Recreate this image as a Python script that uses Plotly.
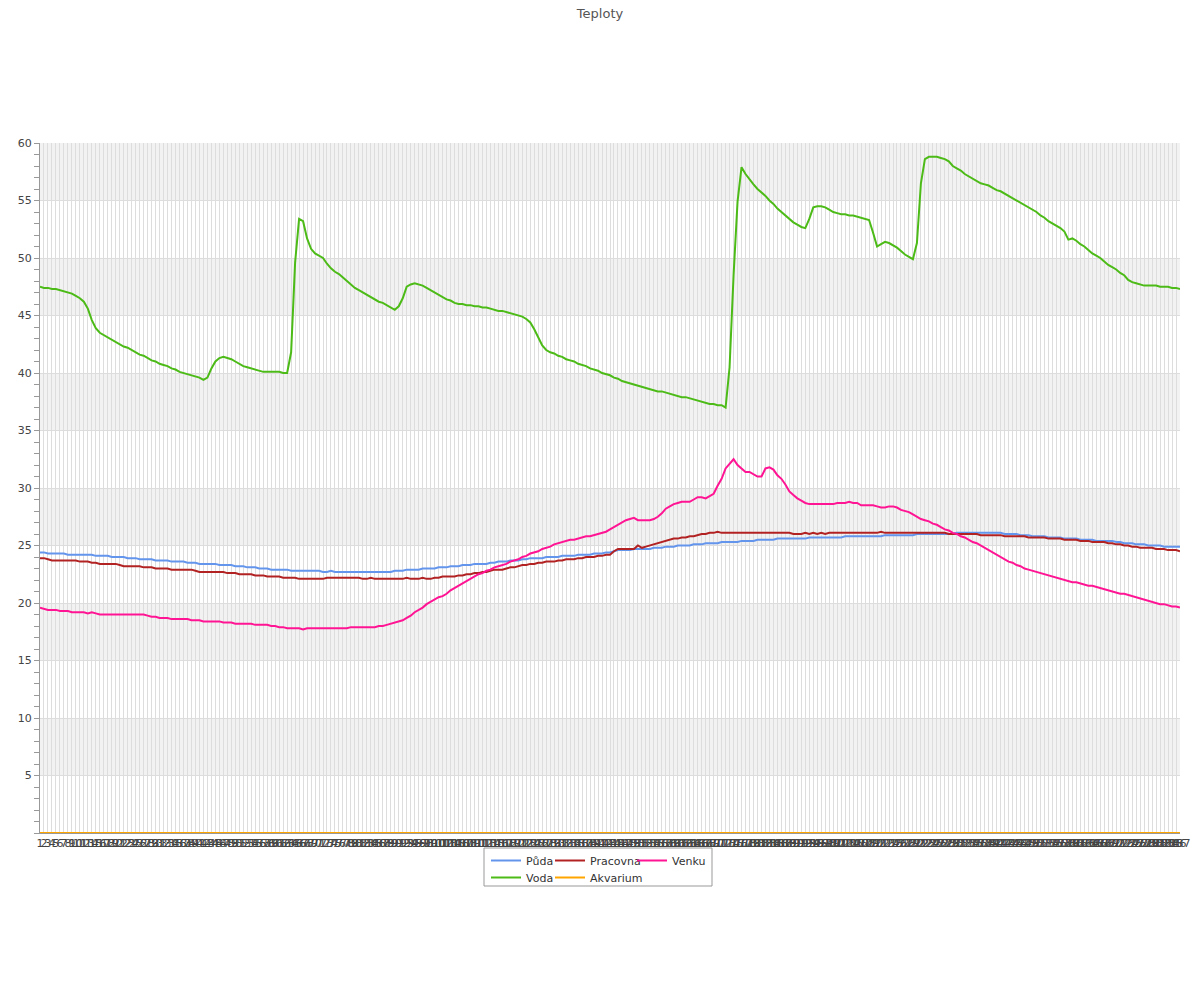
import plotly.graph_objects as go

categories = [str(i) for i in range(1, 288)]

puda = [
    24.4, 24.4, 24.3, 24.3, 24.3, 24.3, 24.3, 24.2, 24.2, 24.2,
    24.2, 24.2, 24.2, 24.2, 24.1, 24.1, 24.1, 24.1, 24.0, 24.0,
    24.0, 24.0, 23.9, 23.9, 23.9, 23.8, 23.8, 23.8, 23.8, 23.7,
    23.7, 23.7, 23.7, 23.6, 23.6, 23.6, 23.6, 23.5, 23.5, 23.5,
    23.4, 23.4, 23.4, 23.4, 23.4, 23.3, 23.3, 23.3, 23.3, 23.2,
    23.2, 23.2, 23.1, 23.1, 23.1, 23.0, 23.0, 23.0, 22.9, 22.9,
    22.9, 22.9, 22.9, 22.8, 22.8, 22.8, 22.8, 22.8, 22.8, 22.8,
    22.8, 22.7, 22.7, 22.8, 22.7, 22.7, 22.7, 22.7, 22.7, 22.7,
    22.7, 22.7, 22.7, 22.7, 22.7, 22.7, 22.7, 22.7, 22.7, 22.8,
    22.8, 22.8, 22.9, 22.9, 22.9, 22.9, 23.0, 23.0, 23.0, 23.0,
    23.1, 23.1, 23.1, 23.2, 23.2, 23.2, 23.3, 23.3, 23.3, 23.4,
    23.4, 23.4, 23.4, 23.5, 23.5, 23.6, 23.6, 23.6, 23.7, 23.7,
    23.7, 23.8, 23.8, 23.9, 23.9, 23.9, 23.9, 24.0, 24.0, 24.0,
    24.0, 24.1, 24.1, 24.1, 24.1, 24.2, 24.2, 24.2, 24.2, 24.3,
    24.3, 24.3, 24.4, 24.4, 24.5, 24.6, 24.6, 24.6, 24.6, 24.7,
    24.7, 24.7, 24.7, 24.7, 24.8, 24.8, 24.8, 24.9, 24.9, 24.9,
    25.0, 25.0, 25.0, 25.0, 25.1, 25.1, 25.1, 25.2, 25.2, 25.2,
    25.2, 25.3, 25.3, 25.3, 25.3, 25.3, 25.4, 25.4, 25.4, 25.4,
    25.5, 25.5, 25.5, 25.5, 25.5, 25.6, 25.6, 25.6, 25.6, 25.6,
    25.6, 25.6, 25.6, 25.7, 25.7, 25.7, 25.7, 25.7, 25.7, 25.7,
    25.7, 25.7, 25.8, 25.8, 25.8, 25.8, 25.8, 25.8, 25.8, 25.8,
    25.8, 25.8, 25.9, 25.9, 25.9, 25.9, 25.9, 25.9, 25.9, 25.9,
    26.0, 26.0, 26.0, 26.0, 26.0, 26.0, 26.0, 26.0, 26.0, 26.0,
    26.1, 26.1, 26.1, 26.1, 26.1, 26.1, 26.1, 26.1, 26.1, 26.1,
    26.1, 26.1, 26.0, 26.0, 26.0, 26.0, 25.9, 25.9, 25.9, 25.8,
    25.8, 25.8, 25.8, 25.7, 25.7, 25.7, 25.7, 25.6, 25.6, 25.6,
    25.6, 25.5, 25.5, 25.5, 25.5, 25.4, 25.4, 25.4, 25.4, 25.4,
    25.3, 25.3, 25.2, 25.2, 25.2, 25.1, 25.1, 25.1, 25.0, 25.0,
    25.0, 25.0, 24.9, 24.9, 24.9, 24.9, 24.9,
]

voda = [
    47.5, 47.4, 47.4, 47.3, 47.3, 47.2, 47.1, 47.0, 46.9, 46.7,
    46.5, 46.2, 45.6, 44.6, 43.9, 43.5, 43.3, 43.1, 42.9, 42.7,
    42.5, 42.3, 42.2, 42.0, 41.8, 41.6, 41.5, 41.3, 41.1, 41.0,
    40.8, 40.7, 40.6, 40.4, 40.3, 40.1, 40.0, 39.9, 39.8, 39.7,
    39.6, 39.4, 39.6, 40.4, 41.0, 41.3, 41.4, 41.3, 41.2, 41.0,
    40.8, 40.6, 40.5, 40.4, 40.3, 40.2, 40.1, 40.1, 40.1, 40.1,
    40.1, 40.0, 40.0, 41.8, 49.6, 53.4, 53.2, 51.7, 50.8, 50.4,
    50.2, 50.0, 49.5, 49.1, 48.8, 48.6, 48.3, 48.0, 47.7, 47.4,
    47.2, 47.0, 46.8, 46.6, 46.4, 46.2, 46.1, 45.9, 45.7, 45.5,
    45.8, 46.5, 47.5, 47.7, 47.8, 47.7, 47.6, 47.4, 47.2, 47.0,
    46.8, 46.6, 46.4, 46.3, 46.1, 46.0, 46.0, 45.9, 45.9, 45.8,
    45.8, 45.7, 45.7, 45.6, 45.5, 45.4, 45.4, 45.3, 45.2, 45.1,
    45.0, 44.9, 44.7, 44.4, 43.8, 43.1, 42.4, 42.0, 41.8, 41.7,
    41.5, 41.4, 41.2, 41.1, 41.0, 40.8, 40.7, 40.6, 40.4, 40.3,
    40.2, 40.0, 39.9, 39.8, 39.6, 39.5, 39.3, 39.2, 39.1, 39.0,
    38.9, 38.8, 38.7, 38.6, 38.5, 38.4, 38.4, 38.3, 38.2, 38.1,
    38.0, 37.9, 37.9, 37.8, 37.7, 37.6, 37.5, 37.4, 37.3, 37.3,
    37.2, 37.2, 37.0, 40.5, 48.5, 54.9, 57.9, 57.3, 56.8, 56.4,
    56.0, 55.7, 55.4, 55.0, 54.7, 54.3, 54.0, 53.7, 53.4, 53.1,
    52.9, 52.7, 52.6, 53.4, 54.4, 54.5, 54.5, 54.4, 54.2, 54.0,
    53.9, 53.8, 53.8, 53.7, 53.7, 53.6, 53.5, 53.4, 53.3, 52.2,
    51.0, 51.2, 51.4, 51.3, 51.1, 50.9, 50.6, 50.3, 50.1, 49.9,
    51.3, 56.5, 58.6, 58.8, 58.8, 58.8, 58.7, 58.6, 58.4, 58.0,
    57.8, 57.6, 57.3, 57.1, 56.9, 56.7, 56.5, 56.4, 56.3, 56.1,
    55.9, 55.8, 55.6, 55.4, 55.2, 55.0, 54.8, 54.6, 54.4, 54.2,
    54.0, 53.7, 53.5, 53.2, 53.0, 52.8, 52.6, 52.3, 51.6, 51.7,
    51.5, 51.2, 51.0, 50.7, 50.4, 50.2, 50.0, 49.7, 49.4, 49.2,
    49.0, 48.7, 48.5, 48.1, 47.9, 47.8, 47.7, 47.6, 47.6, 47.6,
    47.6, 47.5, 47.5, 47.5, 47.4, 47.4, 47.3,
]

pracovna = [
    23.9, 23.9, 23.8, 23.7, 23.7, 23.7, 23.7, 23.7, 23.7, 23.7,
    23.6, 23.6, 23.6, 23.5, 23.5, 23.4, 23.4, 23.4, 23.4, 23.4,
    23.3, 23.2, 23.2, 23.2, 23.2, 23.2, 23.1, 23.1, 23.1, 23.0,
    23.0, 23.0, 23.0, 22.9, 22.9, 22.9, 22.9, 22.9, 22.9, 22.8,
    22.7, 22.7, 22.7, 22.7, 22.7, 22.7, 22.7, 22.6, 22.6, 22.6,
    22.5, 22.5, 22.5, 22.5, 22.4, 22.4, 22.4, 22.3, 22.3, 22.3,
    22.3, 22.2, 22.2, 22.2, 22.2, 22.1, 22.1, 22.1, 22.1, 22.1,
    22.1, 22.1, 22.2, 22.2, 22.2, 22.2, 22.2, 22.2, 22.2, 22.2,
    22.2, 22.1, 22.1, 22.2, 22.1, 22.1, 22.1, 22.1, 22.1, 22.1,
    22.1, 22.1, 22.2, 22.1, 22.1, 22.1, 22.2, 22.1, 22.1, 22.2,
    22.2, 22.3, 22.3, 22.3, 22.3, 22.4, 22.4, 22.5, 22.5, 22.6,
    22.6, 22.7, 22.7, 22.8, 22.9, 22.9, 22.9, 23.0, 23.1, 23.1,
    23.2, 23.3, 23.3, 23.4, 23.4, 23.5, 23.5, 23.6, 23.6, 23.6,
    23.7, 23.7, 23.8, 23.8, 23.8, 23.9, 23.9, 24.0, 24.0, 24.0,
    24.1, 24.1, 24.2, 24.2, 24.5, 24.7, 24.7, 24.7, 24.7, 24.7,
    25.0, 24.8, 24.9, 25.0, 25.1, 25.2, 25.3, 25.4, 25.5, 25.6,
    25.6, 25.7, 25.7, 25.8, 25.8, 25.9, 26.0, 26.0, 26.1, 26.1,
    26.2, 26.1, 26.1, 26.1, 26.1, 26.1, 26.1, 26.1, 26.1, 26.1,
    26.1, 26.1, 26.1, 26.1, 26.1, 26.1, 26.1, 26.1, 26.1, 26.0,
    26.0, 26.0, 26.1, 26.0, 26.1, 26.0, 26.1, 26.0, 26.1, 26.1,
    26.1, 26.1, 26.1, 26.1, 26.1, 26.1, 26.1, 26.1, 26.1, 26.1,
    26.1, 26.2, 26.1, 26.1, 26.1, 26.1, 26.1, 26.1, 26.1, 26.1,
    26.1, 26.1, 26.1, 26.1, 26.1, 26.1, 26.1, 26.1, 26.0, 26.0,
    26.0, 26.0, 26.0, 26.0, 26.0, 26.0, 25.9, 25.9, 25.9, 25.9,
    25.9, 25.9, 25.8, 25.8, 25.8, 25.8, 25.8, 25.8, 25.7, 25.7,
    25.7, 25.7, 25.7, 25.6, 25.6, 25.6, 25.6, 25.5, 25.5, 25.5,
    25.5, 25.4, 25.4, 25.4, 25.3, 25.3, 25.3, 25.3, 25.2, 25.2,
    25.1, 25.1, 25.0, 25.0, 24.9, 24.9, 24.8, 24.8, 24.8, 24.8,
    24.7, 24.7, 24.7, 24.6, 24.6, 24.6, 24.5,
]

akvarium = [0.0] * 287

venku = [
    19.6, 19.5, 19.4, 19.4, 19.4, 19.3, 19.3, 19.3, 19.2, 19.2,
    19.2, 19.2, 19.1, 19.2, 19.1, 19.0, 19.0, 19.0, 19.0, 19.0,
    19.0, 19.0, 19.0, 19.0, 19.0, 19.0, 19.0, 18.9, 18.8, 18.8,
    18.7, 18.7, 18.7, 18.6, 18.6, 18.6, 18.6, 18.6, 18.5, 18.5,
    18.5, 18.4, 18.4, 18.4, 18.4, 18.4, 18.3, 18.3, 18.3, 18.2,
    18.2, 18.2, 18.2, 18.2, 18.1, 18.1, 18.1, 18.1, 18.0, 18.0,
    17.9, 17.9, 17.8, 17.8, 17.8, 17.8, 17.7, 17.8, 17.8, 17.8,
    17.8, 17.8, 17.8, 17.8, 17.8, 17.8, 17.8, 17.8, 17.9, 17.9,
    17.9, 17.9, 17.9, 17.9, 17.9, 18.0, 18.0, 18.1, 18.2, 18.3,
    18.4, 18.5, 18.7, 18.9, 19.2, 19.4, 19.6, 19.9, 20.1, 20.3,
    20.5, 20.6, 20.8, 21.1, 21.3, 21.5, 21.7, 21.9, 22.1, 22.3,
    22.5, 22.6, 22.8, 22.9, 23.1, 23.2, 23.3, 23.4, 23.6, 23.7,
    23.8, 24.0, 24.1, 24.3, 24.4, 24.5, 24.7, 24.8, 24.9, 25.1,
    25.2, 25.3, 25.4, 25.5, 25.5, 25.6, 25.7, 25.8, 25.8, 25.9,
    26.0, 26.1, 26.2, 26.4, 26.6, 26.8, 27.0, 27.2, 27.3, 27.4,
    27.2, 27.2, 27.2, 27.2, 27.3, 27.5, 27.8, 28.2, 28.4, 28.6,
    28.7, 28.8, 28.8, 28.8, 29.0, 29.2, 29.2, 29.1, 29.3, 29.5,
    30.2, 30.8, 31.7, 32.1, 32.5, 32.0, 31.7, 31.4, 31.4, 31.2,
    31.0, 31.0, 31.7, 31.8, 31.6, 31.1, 30.8, 30.3, 29.7, 29.4,
    29.1, 28.9, 28.7, 28.6, 28.6, 28.6, 28.6, 28.6, 28.6, 28.6,
    28.7, 28.7, 28.7, 28.8, 28.7, 28.7, 28.5, 28.5, 28.5, 28.5,
    28.4, 28.3, 28.3, 28.4, 28.4, 28.3, 28.1, 28.0, 27.9, 27.7,
    27.5, 27.3, 27.2, 27.1, 26.9, 26.8, 26.6, 26.4, 26.3, 26.1,
    26.0, 25.8, 25.7, 25.5, 25.3, 25.2, 25.0, 24.8, 24.6, 24.4,
    24.2, 24.0, 23.8, 23.6, 23.5, 23.3, 23.2, 23.0, 22.9, 22.8,
    22.7, 22.6, 22.5, 22.4, 22.3, 22.2, 22.1, 22.0, 21.9, 21.8,
    21.8, 21.7, 21.6, 21.5, 21.5, 21.4, 21.3, 21.2, 21.1, 21.0,
    20.9, 20.8, 20.8, 20.7, 20.6, 20.5, 20.4, 20.3, 20.2, 20.1,
    20.0, 19.9, 19.9, 19.8, 19.7, 19.7, 19.6,
]

y_ticks = [5, 10, 15, 20, 25, 30, 35, 40, 45, 50, 55, 60]
y_bands = [(5, 10), (15, 20), (25, 30), (35, 40), (45, 50), (55, 60)]

# name, values, colour, legend id (one legend per entry, laid out in a 3-column grid)
series = [
    ("Půda", puda, "#6495ED", "legend"),
    ("Voda", voda, "#4CBB17", "legend4"),
    ("Pracovna", pracovna, "#B22222", "legend2"),
    ("Akvarium", akvarium, "#FFA500", "legend5"),
    ("Venku", venku, "#FF1493", "legend3"),
]

FONT = "DejaVu Sans"

# page body has an 8px margin: figure occupies page pixels 8..1200 x 8..1000
OFF = 8
W, H = 1200 - OFF, 1000 - OFF
PL, PR, PT, PB = 40, 1180, 143, 833  # plot area in page pixels

fig = go.Figure()
for name, vals, color, lg in series:
    fig.add_trace(go.Scatter(
        x=categories, y=vals, name=name, mode="lines",
        line=dict(color=color, width=2), legend=lg,
    ))

def px(x):
    return (x - PL) / (PR - PL)

def py(y):
    return (PB - y) / (PB - PT)

shapes = []
for lo, hi in y_bands:
    shapes.append(dict(type="rect", xref="paper", yref="y", x0=0, x1=1, y0=lo, y1=hi,
                       fillcolor="#f2f2f2", line=dict(width=0), layer="below"))

shapes.append(dict(type="rect", xref="paper", yref="paper",
                   x0=px(484), x1=px(712), y0=py(886), y1=py(848),
                   line=dict(color="#999999", width=1), fillcolor="rgba(0,0,0,0)", layer="above"))

legend_common = dict(orientation="v", yanchor="top", xanchor="left",
                     bgcolor="rgba(0,0,0,0)", borderwidth=0,
                     font=dict(family=FONT, size=11, color="#333333"),
                     itemwidth=30, tracegroupgap=0)

col_x = [486, 550, 632]
row_top = [846, 863]

fig.update_layout(
    width=W, height=H,
    template="none",
    paper_bgcolor="white", plot_bgcolor="white",
    font=dict(family=FONT, size=11, color="#444444"),
    margin=dict(l=PL - OFF, r=1200 - PR, t=PT - OFF, b=1000 - PB, pad=0),
    title=dict(text="Teploty", x=(600 - OFF) / W, xref="container", xanchor="center",
               y=1 - 1 / H, yref="container", yanchor="top", pad=dict(t=0, b=0, l=0, r=0),
               font=dict(family=FONT, size=13, color="#555555")),
    showlegend=True,
    legend=dict(x=px(col_x[0]), y=py(row_top[0]), **legend_common),
    legend2=dict(x=px(col_x[1]), y=py(row_top[0]), **legend_common),
    legend3=dict(x=px(col_x[2]), y=py(row_top[0]), **legend_common),
    legend4=dict(x=px(col_x[0]), y=py(row_top[1]), **legend_common),
    legend5=dict(x=px(col_x[1]), y=py(row_top[1]), **legend_common),
    shapes=shapes,
    xaxis=dict(type="category", range=[0, 286], tickmode="linear", tick0=0, dtick=1,
               tickangle=0, showgrid=True, gridcolor="#dddddd", gridwidth=1,
               showline=True, linecolor="#999999", linewidth=1, ticks="",
               zeroline=False, automargin=False,
               tickfont=dict(family=FONT, size=11, color="#444444")),
    yaxis=dict(range=[0, 60], tickmode="array", tickvals=y_ticks,
               ticktext=[str(v) for v in y_ticks],
               showgrid=True, gridcolor="#dddddd", gridwidth=1,
               showline=True, linecolor="#999999", linewidth=1,
               ticks="outside", ticklen=5, tickcolor="#999999",
               minor=dict(tickmode="linear", tick0=0, dtick=1, ticks="outside",
                          ticklen=5, tickcolor="#999999", showgrid=False),
               zeroline=False, automargin=False,
               tickfont=dict(family=FONT, size=11, color="#444444")),
)

fig.write_html("out.html")
